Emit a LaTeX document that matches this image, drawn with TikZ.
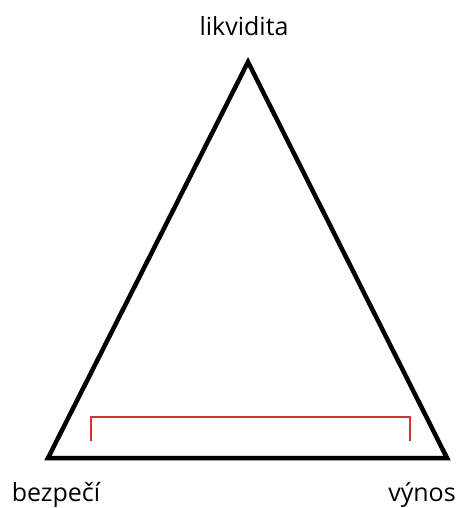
\documentclass[tikz,border=0pt]{standalone}
\usepackage{fontspec}
\setmainfont{Open Sans}
\definecolor{bracketred}{RGB}{205,55,60}
\begin{document}
\begin{tikzpicture}[x=1pt,y=-1pt,
  lbl/.style={inner sep=0pt, font=\fontsize{25}{29}\selectfont, anchor=base},
  tri/.style={line width=4.5pt, line join=miter},
  brk/.style={draw=bracketred, line width=1.5pt}]
\useasboundingbox (0,0) rectangle (459,508);
\coordinate (top) at (248,62);
\coordinate (bl) at (48,458);
\coordinate (br) at (447,458);
\draw[tri] (top) -- (bl) -- (br) -- cycle;
\coordinate (b1) at (91,441);
\coordinate (b2) at (91,417);
\coordinate (b3) at (410,417);
\coordinate (b4) at (410,441);
\draw[brk] (b1) -- (b2) -- (b3) -- (b4);
\node[lbl] (liq) at (244,36) {likvidita};
\node[lbl] (saf) at (56,501) {bezpečí};
\node[lbl] (ret) at (422,501) {výnos};
\end{tikzpicture}
\end{document}
